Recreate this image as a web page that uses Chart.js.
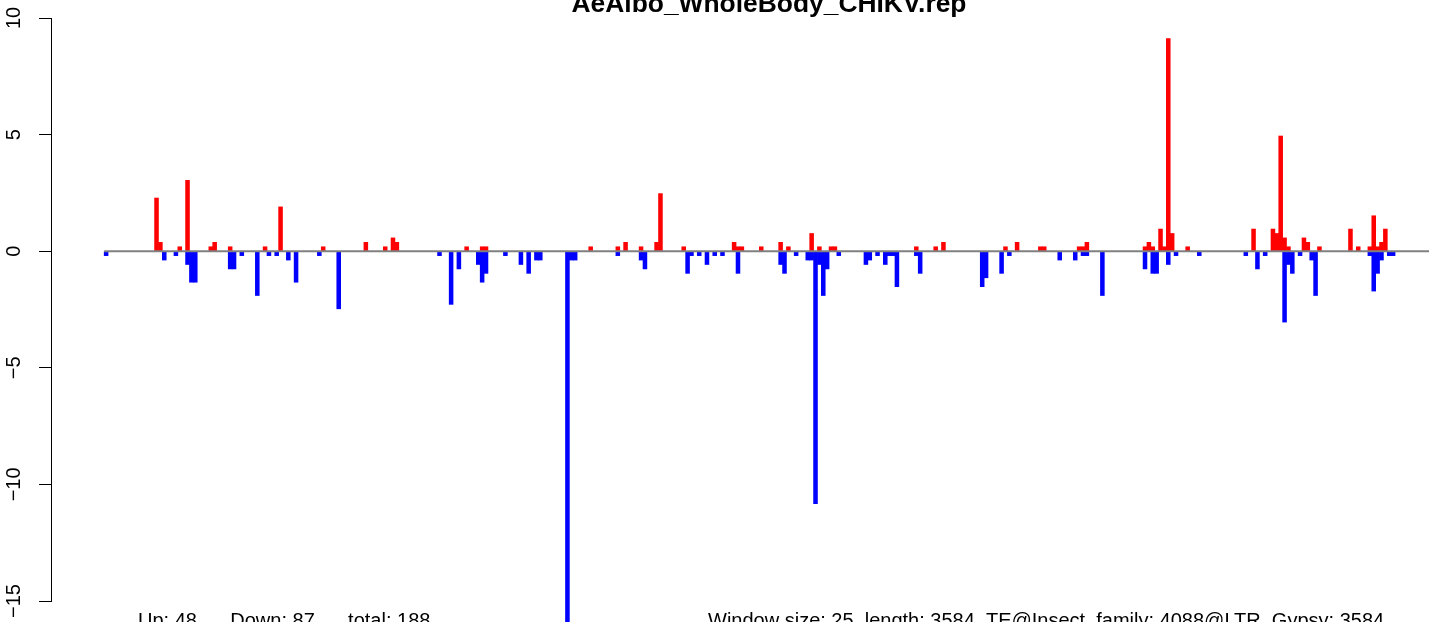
<!DOCTYPE html>
<html>
<head>
<meta charset="utf-8">
<script src="https://cdn.jsdelivr.net/npm/chart.js@4.4.0/dist/chart.umd.min.js"></script>
<style>
  html, body { margin: 0; padding: 0; overflow: hidden; background: #fff; }
  canvas { display: block; }
</style>
</head>
<body>
<canvas id="repChart" width="1536" height="660" style="width:1536px;height:660px"></canvas>
<script>
// window index of every bar (0-based, 343 windows on the axis)
const nWindows = 343;
const windows = [0,13,14,15,18,19,21,22,23,27,28,32,33,35,39,41,42,44,45,47,49,55,56,60,67,72,74,75,86,89,91,93,96,97,98,103,107,109,111,112,119,120,121,125,132,134,138,139,142,143,149,150,151,153,155,157,159,162,163,164,169,174,175,176,178,181,182,183,184,185,186,187,188,189,196,197,199,201,202,203,204,209,210,214,216,226,227,231,232,233,235,241,242,246,250,251,252,253,257,268,269,270,271,272,273,274,275,276,279,282,294,296,297,299,301,302,303,304,305,306,308,309,310,311,312,313,321,323,326,327,328,329,330,331,332];
// red bars (up)
const upValues = [0,2.28,0.38,0,0,0.19,3.04,0,0,0.19,0.38,0.19,0,0,0,0.19,0,0,1.9,0,0,0,0.19,0,0.38,0.19,0.57,0.38,0,0,0,0.19,0,0.19,0.19,0,0,0,0,0,0,0,0,0.19,0.19,0.38,0.19,0,0.38,2.47,0.19,0,0,0,0,0,0,0.38,0.19,0.19,0.19,0.38,0,0.19,0,0,0.76,0,0.19,0,0,0.19,0.19,0,0,0,0,0,0,0,0,0.19,0,0.19,0.38,0,0,0,0.19,0,0.38,0.19,0.19,0,0,0.19,0.19,0.38,0,0.19,0.38,0.19,0,0.95,0.19,9.12,0.76,0,0.19,0,0,0.95,0,0,0.95,0.76,4.94,0.57,0.19,0,0,0.57,0.38,0,0,0.19,0.95,0.19,0.19,1.52,0.19,0.38,0.95,0,0];
// blue bars (down)
const downValues = [-0.19,0,0,-0.38,-0.19,0,-0.57,-1.33,-1.33,0,0,-0.76,-0.76,-0.19,-1.9,0,-0.19,-0.19,0,-0.38,-1.33,-0.19,0,-2.47,0,0,0,0,-0.19,-2.28,-0.76,0,-0.57,-1.33,-0.95,-0.19,-0.57,-0.95,-0.38,-0.38,-16.15,-0.38,-0.38,0,-0.19,0,-0.38,-0.76,0,0,0,-0.95,-0.19,-0.19,-0.57,-0.19,-0.19,0,-0.95,0,0,-0.57,-0.95,0,-0.19,-0.38,-0.38,-10.83,-0.57,-1.9,-0.76,0,0,-0.19,-0.57,-0.38,-0.19,-0.57,-0.19,-0.19,-1.52,-0.19,-0.95,0,0,-1.52,-1.14,-0.95,0,-0.19,0,0,0,-0.38,-0.38,0,-0.19,-0.19,-1.9,-0.76,0,-0.95,-0.95,0,0,-0.57,0,-0.19,0,-0.19,-0.19,0,-0.76,-0.19,0,0,0,-3.04,-0.57,-0.95,-0.19,0,0,-0.38,-1.9,0,0,0,-0.19,-1.71,-0.95,-0.38,0,-0.19,-0.19];
const yTicks = [10, 5, 0, -5, -10, -15];

const titleText = 'AeAlbo_WholeBody_CHIKV.rep';
const footLeft = 'Up: 48      Down: 87      total: 188';
const footRight = 'Window size: 25, length: 3584, TE@Insect_family: 4088@LTR_Gypsy: 3584';

const toPoints = vals => windows
  .map((w, i) => ({ x: w + 0.5, y: vals[i] }))
  .filter(p => p.y !== 0);

const FONT = '"Liberation Sans", Arial, Helvetica, sans-serif';

// R-style texts: rotated y labels, title, footer, zero line
const rStyle = {
  id: 'rStyle',
  afterDatasetsDraw(chart) {
    const { ctx, scales } = chart;
    const y0 = scales.y.getPixelForValue(0);
    ctx.save();
    ctx.strokeStyle = '#808080';
    ctx.lineWidth = 2;
    ctx.beginPath();
    ctx.moveTo(scales.x.getPixelForValue(0), y0);
    ctx.lineTo(chart.width, y0);
    ctx.stroke();
    ctx.restore();
  },
  afterDraw(chart) {
    const { ctx, chartArea, scales } = chart;
    ctx.save();
    ctx.fillStyle = '#000';
    ctx.font = '20px ' + FONT;
    ctx.textAlign = 'center';
    ctx.textBaseline = 'alphabetic';
    yTicks.forEach(v => {
      ctx.save();
      ctx.translate(20, scales.y.getPixelForValue(v));
      ctx.rotate(-Math.PI / 2);
      ctx.fillText(v < 0 ? '\u2212' + Math.abs(v) : String(v), 0, 0);
      ctx.restore();
    });
    ctx.font = 'bold 26.4px ' + FONT;
    ctx.fillText(titleText, (chartArea.left + chartArea.right) / 2, 12);
    ctx.font = '20px ' + FONT;
    ctx.textAlign = 'left';
    ctx.fillText(footLeft, 138, 627);
    ctx.fillText(footRight, 708, 627);
    ctx.restore();
  }
};

new Chart(document.getElementById('repChart'), {
  type: 'bar',
  data: {
    datasets: [{
      label: 'up',
      data: toPoints(upValues),
      backgroundColor: '#ff0000',
      borderWidth: 0,
      clip: false
    }, {
      label: 'down',
      data: toPoints(downValues),
      backgroundColor: '#0000ff',
      borderWidth: 0,
      clip: false
    }]
  },
  options: {
    responsive: false,
    animation: false,
    events: [],
    layout: { padding: { top: 18, bottom: 59, left: 0, right: 49 } },
    barPercentage: 1,
    categoryPercentage: 1,
    scales: {
      x: {
        type: 'linear',
        offset: false,
        min: -0.04 * nWindows,
        max: 1.04 * nWindows,
        stacked: true,
        display: false
      },
      y: {
        min: -15,
        max: 10,
        stacked: true,
        afterFit: s => { s.width = 51; },
        ticks: { display: false, stepSize: 5 },
        grid: { drawOnChartArea: false, color: '#000', tickLength: 12, lineWidth: 1 },
        border: { display: true, color: '#000', width: 1 }
      }
    },
    plugins: {
      legend: { display: false },
      tooltip: { enabled: false }
    }
  },
  plugins: [rStyle]
});
</script>
</body>
</html>
